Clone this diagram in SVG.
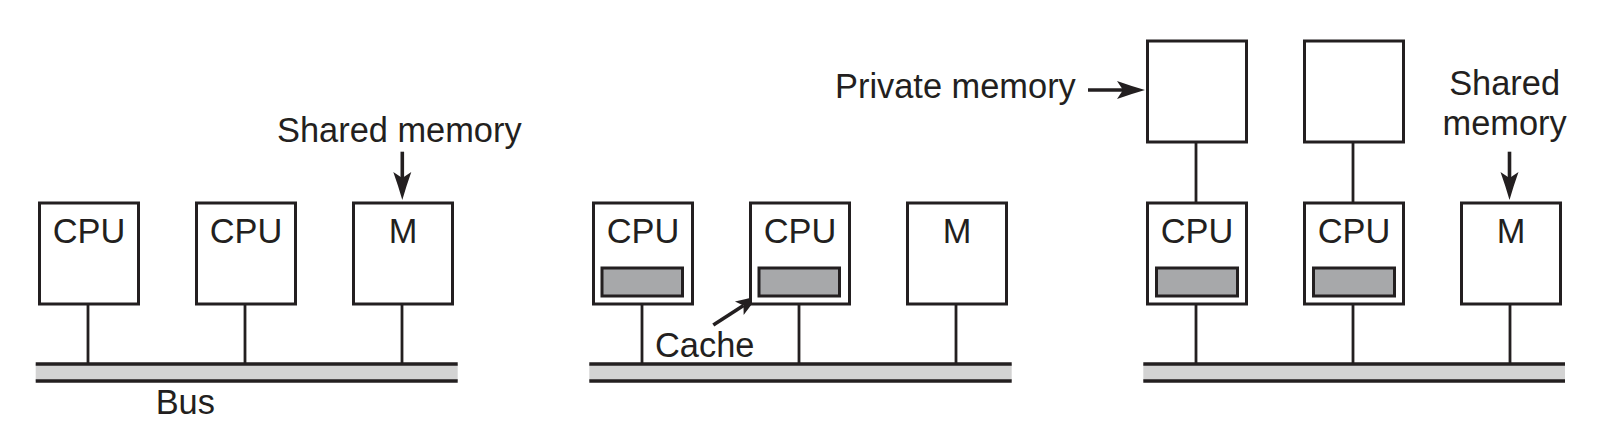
<svg xmlns="http://www.w3.org/2000/svg" width="1612" height="431" viewBox="0 0 1612 431">
<defs>
<style>
.box{fill:#fff;stroke:#231f20;stroke-width:3}
.cache{fill:#a7a8aa;stroke:#231f20;stroke-width:3}
.bus{fill:#d3d3d3;stroke:none}
.busline{stroke:#231f20;stroke-width:3.5;fill:none}
.wire{stroke:#231f20;stroke-width:2.8;fill:none}
.arr{stroke:#231f20;stroke-width:3.6;fill:none}
text{font-family:"Liberation Sans",Arial,Helvetica,sans-serif;font-size:34.4px;fill:#231f20}
.c{text-anchor:middle}
</style>
<marker id="ah" markerUnits="userSpaceOnUse" markerWidth="30" markerHeight="20" refX="6" refY="9" orient="auto" overflow="visible">
<path d="M28,9 Q14,5 0,0 L6,9 L0,18 Q14,13 28,9 Z" fill="#231f20"/>
</marker>
<marker id="ahs" markerUnits="userSpaceOnUse" markerWidth="26" markerHeight="18" refX="5" refY="8" orient="auto" overflow="visible">
<path d="M23,8 Q12,4.5 0,0 L5,8 L0,16 Q12,11.5 23,8 Z" fill="#231f20"/>
</marker>
</defs>

<g id="connectors">
<!-- left diagram -->
<line class="wire" x1="88" y1="304" x2="88" y2="364"/>
<line class="wire" x1="245" y1="304" x2="245" y2="364"/>
<line class="wire" x1="402" y1="304" x2="402" y2="364"/>
<line class="arr" x1="402.3" y1="151.7" x2="402.3" y2="178" marker-end="url(#ah)"/>
<!-- middle diagram -->
<line class="wire" x1="642" y1="304" x2="642" y2="364"/>
<line class="wire" x1="799" y1="304" x2="799" y2="364"/>
<line class="wire" x1="956" y1="304" x2="956" y2="364"/>
<line class="arr" x1="713.3" y1="325" x2="743.5" y2="305.5" marker-end="url(#ahs)"/>
<!-- right diagram -->
<line class="wire" x1="1196" y1="142" x2="1196" y2="203"/>
<line class="wire" x1="1353" y1="142" x2="1353" y2="203"/>
<line class="wire" x1="1196" y1="304" x2="1196" y2="364"/>
<line class="wire" x1="1353" y1="304" x2="1353" y2="364"/>
<line class="wire" x1="1510" y1="304" x2="1510" y2="364"/>
<line class="arr" x1="1088" y1="90" x2="1123" y2="90" marker-end="url(#ah)"/>
<line class="arr" x1="1509.5" y1="151.7" x2="1509.5" y2="178" marker-end="url(#ah)"/>
</g>

<!-- Left diagram: UMA bus -->
<g id="bus1">
<rect class="bus" x="35.7" y="364" width="422" height="17"/>
<line class="busline" x1="35.7" y1="364" x2="457.7" y2="364"/>
<line class="busline" x1="35.7" y1="381" x2="457.7" y2="381"/>
<text x="185.3" y="414" class="c">Bus</text>
</g>
<g id="cpu1a"><rect class="box" x="39.5" y="203" width="99" height="101"/><text x="89" y="243" class="c">CPU</text></g>
<g id="cpu1b"><rect class="box" x="196.5" y="203" width="99" height="101"/><text x="246" y="243" class="c">CPU</text></g>
<g id="mem1"><rect class="box" x="353.5" y="203" width="99" height="101"/><text x="403" y="243" class="c">M</text></g>
<g id="label-shared1"><text x="277" y="141.7">Shared memory</text></g>

<!-- Middle diagram: with caches -->
<g id="bus2">
<rect class="bus" x="589.3" y="364" width="422.4" height="17"/>
<line class="busline" x1="589.3" y1="364" x2="1011.7" y2="364"/>
<line class="busline" x1="589.3" y1="381" x2="1011.7" y2="381"/>
</g>
<g id="cpu2a"><rect class="box" x="593.5" y="203" width="99" height="101"/><text x="643" y="243" class="c">CPU</text><rect class="cache" x="602" y="268" width="80.5" height="28"/></g>
<g id="cpu2b"><rect class="box" x="750.5" y="203" width="99" height="101"/><text x="800" y="243" class="c">CPU</text><rect class="cache" x="759" y="268" width="80.5" height="28"/></g>
<g id="mem2"><rect class="box" x="907.5" y="203" width="99" height="101"/><text x="957" y="243" class="c">M</text></g>
<g id="label-cache"><text x="655" y="356.7">Cache</text></g>

<!-- Right diagram: private + shared memory -->
<g id="bus3">
<rect class="bus" x="1143.3" y="364" width="421.7" height="17"/>
<line class="busline" x1="1143.3" y1="364" x2="1565" y2="364"/>
<line class="busline" x1="1143.3" y1="381" x2="1565" y2="381"/>
</g>
<g id="priv3a"><rect class="box" x="1147.5" y="41" width="99" height="101"/></g>
<g id="priv3b"><rect class="box" x="1304.5" y="41" width="99" height="101"/></g>
<g id="cpu3a"><rect class="box" x="1147.5" y="203" width="99" height="101"/><text x="1197" y="243" class="c">CPU</text><rect class="cache" x="1156.5" y="268" width="81" height="28"/></g>
<g id="cpu3b"><rect class="box" x="1304.5" y="203" width="99" height="101"/><text x="1354" y="243" class="c">CPU</text><rect class="cache" x="1313.5" y="268" width="81" height="28"/></g>
<g id="mem3"><rect class="box" x="1461.5" y="203" width="99" height="101"/><text x="1511" y="243" class="c">M</text></g>
<g id="label-private"><text x="835" y="98.3">Private memory</text></g>
<g id="label-shared3"><text x="1504.6" y="95" class="c">Shared</text><text x="1504.6" y="135" class="c">memory</text></g>
</svg>
